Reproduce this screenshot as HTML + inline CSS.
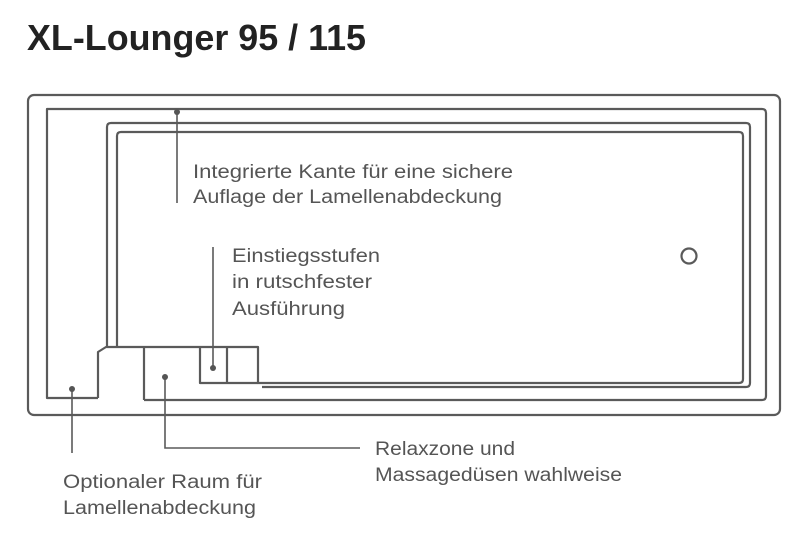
<!DOCTYPE html>
<html><head><meta charset="utf-8"><style>
html,body{margin:0;padding:0;background:#fff;}
svg{display:block;}
text{font-family:"Liberation Sans",sans-serif;fill:#555;font-size:19px;}
</style></head><body>
<svg width="800" height="533" viewBox="0 0 800 533" xmlns="http://www.w3.org/2000/svg">
<text x="27" y="50" style="font-size:36px;font-weight:bold;fill:#222" textLength="339" lengthAdjust="spacingAndGlyphs">XL-Lounger 95 / 115</text>
<g fill="none" stroke="#5a5a5a" stroke-width="2.2" stroke-linejoin="round">
<rect x="28" y="95" width="752" height="320" rx="6"/>
<path d="M98 398 H47 V109 H762 Q766 109 766 113 V396 Q766 400 762 400 H144"/>
<path d="M98 398 V352 L106 347 H258 V383 H739 Q743 383 743 379 V136 Q743 132 739 132 H121 Q117 132 117 136 V347"/>
<path d="M107 347 V127 Q107 123 111 123 H746 Q750 123 750 127 V383 Q750 387 746 387 H262"/>
<path d="M144 347 V400"/>
<path d="M200 347 V383 H258"/>
<path d="M227 347 V383"/>
<circle cx="689" cy="256" r="7.5"/>
</g>
<g stroke="#5a5a5a" stroke-width="1.6" fill="none">
<path d="M177 112 V203"/>
<path d="M213 368 V247"/>
<path d="M72 389 V453"/>
<path d="M165 377 V448 H360"/>
</g>
<g fill="#555">
<circle cx="177" cy="112" r="3"/>
<circle cx="213" cy="368" r="3"/>
<circle cx="72" cy="389" r="3"/>
<circle cx="165" cy="377" r="3"/>
</g>
<text x="193" y="178" textLength="320" lengthAdjust="spacingAndGlyphs">Integrierte Kante für eine sichere</text>
<text x="193" y="203" textLength="309" lengthAdjust="spacingAndGlyphs">Auflage der Lamellenabdeckung</text>
<text x="232" y="262" textLength="148" lengthAdjust="spacingAndGlyphs">Einstiegsstufen</text>
<text x="232" y="288" textLength="140" lengthAdjust="spacingAndGlyphs">in rutschfester</text>
<text x="232" y="315" textLength="113" lengthAdjust="spacingAndGlyphs">Ausführung</text>
<text x="375" y="455" textLength="140" lengthAdjust="spacingAndGlyphs">Relaxzone und</text>
<text x="375" y="481" textLength="247" lengthAdjust="spacingAndGlyphs">Massagedüsen wahlweise</text>
<text x="63" y="488" textLength="199" lengthAdjust="spacingAndGlyphs">Optionaler Raum für</text>
<text x="63" y="514" textLength="193" lengthAdjust="spacingAndGlyphs">Lamellenabdeckung</text>
</svg>
</body></html>
